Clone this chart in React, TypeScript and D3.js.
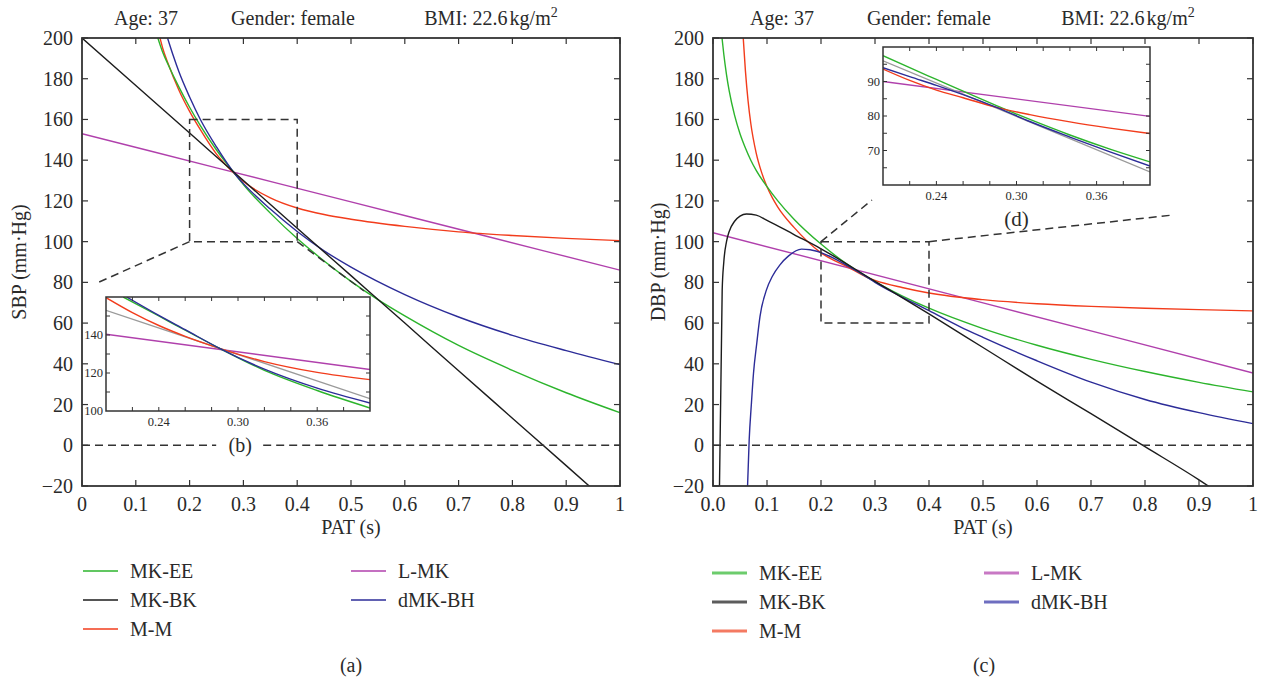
import React from "react";
import * as d3 from "d3";

type Pt = [number, number];

// ---------------- tick labels ----------------
const xTickValues = [0, 0.1, 0.2, 0.3, 0.4, 0.5, 0.6, 0.7, 0.8, 0.9, 1];
const xTickLabelsA = ["0", "0.1", "0.2", "0.3", "0.4", "0.5", "0.6", "0.7", "0.8", "0.9", "1"];
const xTickLabelsC = ["0.0", "0.1", "0.2", "0.3", "0.4", "0.5", "0.6", "0.7", "0.8", "0.9", "1"];
const yTickValues = [200, 180, 160, 140, 120, 100, 80, 60, 40, 20, 0, -20];
const yTickLabels = ["200", "180", "160", "140", "120", "100", "80", "60", "40", "20", "0", "\u221220"];
const insetXLabelValues = [0.24, 0.3, 0.36];
const insetXLabels = ["0.24", "0.30", "0.36"];
const insetBYLabelValues = [100, 120, 140];
const insetDYLabelValues = [70, 80, 90];

const seriesNames = ["MK-EE", "MK-BK", "M-M", "L-MK", "dMK-BH"];
const seriesColors = ["#2cb42c", "#1c1c1c", "#f23c1c", "#b040ac", "#2c2c98"];
const legendColorsC = ["#6ccc6c", "#5c5c5c", "#f47a62", "#c878c4", "#6e6ec0"];
const refColor = "#9a9a9a";

// ---------------- panel (a): SBP ----------------
const sbpMKEE: Pt[] = [[0.141, 200], [0.15, 193], [0.16, 187], [0.18, 176], [0.2, 166], [0.22, 157], [0.25, 145], [0.285, 133], [0.3, 128], [0.35, 114], [0.4, 101.5], [0.45, 90.5], [0.5, 80.5], [0.55, 71.5], [0.6, 63.5], [0.7, 49], [0.8, 36.8], [0.9, 25.8], [1, 16]];
const sbpMKBK: Pt[] = [[0, 200], [0.1, 176.7], [0.2, 153.3], [0.3, 130], [0.4, 106.6], [0.5, 83.3], [0.6, 60], [0.7, 36.6], [0.8, 13.3], [0.9, -10], [0.95, -21.7]];
const sbpMM: Pt[] = [[0.145, 200], [0.15, 195], [0.16, 187.5], [0.18, 174.5], [0.2, 164], [0.22, 155], [0.25, 143], [0.285, 133], [0.3, 129.5], [0.35, 121.5], [0.4, 116.5], [0.45, 113.3], [0.5, 111], [0.6, 107.5], [0.7, 104.8], [0.8, 103], [0.9, 101.6], [1, 100.5]];
const sbpLMK: Pt[] = [[0, 153], [0.25, 136.25], [0.5, 119.5], [0.75, 102.75], [1, 86]];
const sbpDMKBH: Pt[] = [[0.159, 200], [0.17, 191], [0.18, 183.5], [0.2, 171], [0.22, 160], [0.25, 146.5], [0.285, 133], [0.3, 128.5], [0.35, 116], [0.4, 105], [0.45, 95.5], [0.5, 87.5], [0.6, 74], [0.7, 63], [0.8, 54], [0.9, 46.5], [1, 39.6]];

// inset (b)
const bMKEE: Pt[] = [[0.213, 160], [0.24, 150], [0.26, 142.5], [0.286, 133], [0.32, 121.4], [0.36, 110.8], [0.4, 101.6]];
const bMM: Pt[] = [[0.2, 159.7], [0.22, 151.8], [0.24, 145], [0.26, 139.3], [0.286, 133], [0.32, 126], [0.36, 120.3], [0.4, 116.5]];
const bLMK: Pt[] = [[0.2, 140.4], [0.4, 121.8]];
const bDMKBH: Pt[] = [[0.2156, 160], [0.24, 150.3], [0.26, 142.8], [0.286, 133], [0.32, 122], [0.36, 112], [0.4, 104.2]];
const bRef: Pt[] = [[0.2, 153], [0.4, 106.5]];

// ---------------- panel (c): DBP ----------------
const dbpMKEE: Pt[] = [[0.0167, 200], [0.02, 192], [0.025, 182], [0.03, 174], [0.04, 162], [0.05, 153], [0.06, 146], [0.07, 140], [0.08, 135], [0.1, 127], [0.12, 120], [0.15, 111], [0.2, 98.8], [0.25, 88.6], [0.3, 80.4], [0.35, 73.4], [0.4, 67.3], [0.5, 57.3], [0.6, 49.1], [0.7, 42.2], [0.8, 36.2], [0.9, 30.9], [1, 26.2]];
const dbpMKBK: Pt[] = [[0.012, -20], [0.017, 76], [0.02, 90], [0.025, 100], [0.03, 105], [0.04, 110], [0.05, 112.5], [0.062, 113.6], [0.08, 113], [0.1, 110.5], [0.15, 103.5], [0.2, 96.5], [0.3, 80.5], [0.4, 64.5], [0.5, 48], [0.6, 31.5], [0.7, 15.5], [0.8, -0.7], [0.9, -17], [0.92, -20.5]];
const dbpMM: Pt[] = [[0.056, 200], [0.06, 184], [0.065, 169], [0.07, 158], [0.08, 143.5], [0.09, 134], [0.1, 127], [0.11, 121.5], [0.12, 117], [0.15, 107], [0.2, 94.5], [0.25, 87.5], [0.285, 82.5], [0.3, 81], [0.35, 77.5], [0.4, 74.8], [0.5, 71.5], [0.6, 69.5], [0.7, 68.2], [0.8, 67.3], [0.9, 66.6], [1, 66]];
const dbpLMK: Pt[] = [[0, 104.4], [0.5, 69.95], [1, 35.5]];
const dbpDMKBH: Pt[] = [[0.064, -20], [0.067, 2.6], [0.071, 20], [0.075, 35.4], [0.081, 50], [0.087, 63.2], [0.099, 76.3], [0.11, 83], [0.124, 88.6], [0.14, 93], [0.164, 96.3], [0.18, 96], [0.2, 94.6], [0.25, 88], [0.285, 82.6], [0.3, 80], [0.35, 72.8], [0.4, 66.1], [0.457, 58.3], [0.5, 53], [0.6, 41.5], [0.7, 31], [0.8, 22.5], [0.9, 16], [1, 10.6]];

// inset (d)
const dMKEE: Pt[] = [[0.2, 97.5], [0.22, 94], [0.24, 90.6], [0.26, 87.2], [0.285, 83], [0.31, 79], [0.34, 74.5], [0.37, 70.4], [0.4, 66.7]];
const dMM: Pt[] = [[0.2, 93.6], [0.22, 90.3], [0.24, 87.5], [0.26, 85.3], [0.285, 82.5], [0.31, 80.4], [0.34, 78.3], [0.37, 76.5], [0.4, 74.9]];
const dLMK: Pt[] = [[0.2, 90], [0.4, 79.9]];
const dDMKBH: Pt[] = [[0.2, 94], [0.22, 91.4], [0.24, 88.9], [0.26, 86.2], [0.285, 82.5], [0.31, 78.4], [0.34, 73.9], [0.37, 69.6], [0.4, 65.5]];
const dRef: Pt[] = [[0.2, 96], [0.4, 63.8]];

// ---------------- layout ----------------
const W = 1265;
const H = 684;
const FONT = "'Liberation Serif', 'DejaVu Serif', serif";
const INK = "#2a2a2a";

interface Box { left: number; right: number; top: number; bottom: number }
interface Series { color: string; data: Pt[] }

const boxA: Box = { left: 82, right: 620, top: 38, bottom: 486 };
const boxC: Box = { left: 713, right: 1253, top: 38, bottom: 486 };
const insetBoxB: Box = { left: 106, right: 370, top: 297, bottom: 411 };
const insetBoxD: Box = { left: 883, right: 1150, top: 47, bottom: 185 };

function lineFor(xs: d3.ScaleLinear<number, number>, ys: d3.ScaleLinear<number, number>) {
  return d3
    .line<Pt>()
    .x((d) => xs(d[0]))
    .y((d) => ys(d[1]))
    .curve(d3.curveMonotoneX);
}

function Inset(props: {
  id: string;
  box: Box;
  yDomain: [number, number];
  yMinor: number;
  yLabels: number[];
  series: Series[];
}) {
  const { id, box, yDomain, yMinor, yLabels, series } = props;
  const xs = d3.scaleLinear().domain([0.2, 0.4]).range([box.left, box.right]);
  const ys = d3.scaleLinear().domain(yDomain).range([box.bottom, box.top]);
  const line = lineFor(xs, ys);
  const xMinor = d3.range(0.22, 0.399, 0.02);
  const yMinorTicks = d3.range(yDomain[0] + yMinor, yDomain[1] - 0.01, yMinor);
  const tl = 4;
  return (
    <g>
      <defs>
        <clipPath id={id}>
          <rect x={box.left} y={box.top} width={box.right - box.left} height={box.bottom - box.top} />
        </clipPath>
      </defs>
      <rect x={box.left} y={box.top} width={box.right - box.left} height={box.bottom - box.top} fill="#fff" />
      <g clipPath={`url(#${id})`} fill="none" strokeWidth={1.4}>
        {series.map((s, i) => (
          <path key={i} d={line(s.data) || ""} stroke={s.color} />
        ))}
      </g>
      <g stroke="#333" strokeWidth={1}>
        {xMinor.map((t, i) => (
          <g key={i}>
            <line x1={xs(t)} x2={xs(t)} y1={box.bottom} y2={box.bottom - tl} />
            <line x1={xs(t)} x2={xs(t)} y1={box.top} y2={box.top + tl} />
          </g>
        ))}
        {yMinorTicks.map((t, i) => (
          <g key={i}>
            <line x1={box.left} x2={box.left + tl} y1={ys(t)} y2={ys(t)} />
            <line x1={box.right} x2={box.right - tl} y1={ys(t)} y2={ys(t)} />
          </g>
        ))}
      </g>
      <rect x={box.left} y={box.top} width={box.right - box.left} height={box.bottom - box.top} fill="none" stroke="#333" strokeWidth={1.5} />
      <g fontFamily={FONT} fontSize={12.5} fill={INK}>
        {insetXLabelValues.map((t, i) => (
          <text key={i} x={xs(t)} y={box.bottom + 15} textAnchor="middle">
            {insetXLabels[i]}
          </text>
        ))}
        {yLabels.map((t, i) => (
          <text key={i} x={box.left - 3} y={ys(t)} dy="0.35em" textAnchor="end">
            {String(t)}
          </text>
        ))}
      </g>
    </g>
  );
}

function Legend(props: { x1: number; x2: number; rows: number[]; colors: string[]; width: number }) {
  const { x1, x2, rows, colors, width } = props;
  const cols = [
    { x: x1, items: [0, 1, 2] },
    { x: x2, items: [3, 4] },
  ];
  return (
    <g fontFamily={FONT} fontSize={20} fill={INK}>
      {cols.map((c, ci) =>
        c.items.map((idx, ri) => (
          <g key={`${ci}-${ri}`}>
            <line x1={c.x} x2={c.x + 35} y1={rows[ri]} y2={rows[ri]} stroke={colors[idx]} strokeWidth={width} />
            <text x={c.x + 47} y={rows[ri]} dy="0.35em">
              {seriesNames[idx]}
            </text>
          </g>
        ))
      )}
    </g>
  );
}

function Titles(props: { centers: number[] }) {
  const [a, g, b] = props.centers;
  return (
    <g fontFamily={FONT} fontSize={20} fill={INK} textAnchor="middle">
      <text x={a} y={25}>Age: 37</text>
      <text x={g} y={25}>Gender: female</text>
      <text x={b} y={25}>
        <tspan>BMI: 22.6</tspan>
        <tspan dx={2}>kg/m</tspan>
        <tspan dy={-8} fontSize={14}>2</tspan>
      </text>
    </g>
  );
}

function MainPanel(props: {
  id: string;
  box: Box;
  xLabels: string[];
  yTitle: string;
  yTitleOffset: number;
  series: Series[];
  zoomY: [number, number];
  inset: React.ReactNode;
  connectors: { from: Pt; to: [number, number] }[];
  zeroGap: [number, number] | null;
}) {
  const { id, box, xLabels, yTitle, yTitleOffset, series, zoomY, inset, connectors, zeroGap } = props;
  const xs = d3.scaleLinear().domain([0, 1]).range([box.left, box.right]);
  const ys = d3.scaleLinear().domain([-20, 200]).range([box.bottom, box.top]);
  const line = lineFor(xs, ys);
  const tl = 6;
  const dash = "8,5";
  const zeroSegs: [number, number][] = zeroGap
    ? [[box.left, zeroGap[0]], [zeroGap[1], box.right]]
    : [[box.left, box.right]];
  return (
    <g>
      <defs>
        <clipPath id={id}>
          <rect x={box.left} y={box.top} width={box.right - box.left} height={box.bottom - box.top} />
        </clipPath>
      </defs>
      <g clipPath={`url(#${id})`} fill="none" strokeWidth={1.4}>
        {series.map((s, i) => (
          <path key={i} d={line(s.data) || ""} stroke={s.color} />
        ))}
      </g>
      <g stroke="#333" strokeWidth={1.5} strokeDasharray={dash}>
        {zeroSegs.map((sg, i) => (
          <line key={i} x1={sg[0]} x2={sg[1]} y1={ys(0)} y2={ys(0)} />
        ))}
      </g>
      <rect
        x={xs(0.2)}
        y={ys(zoomY[1])}
        width={xs(0.4) - xs(0.2)}
        height={ys(zoomY[0]) - ys(zoomY[1])}
        fill="none"
        stroke="#333"
        strokeWidth={1.5}
        strokeDasharray={dash}
      />
      {connectors.map((c, i) => (
        <line
          key={i}
          x1={xs(c.from[0])}
          y1={ys(c.from[1])}
          x2={c.to[0]}
          y2={c.to[1]}
          stroke="#333"
          strokeWidth={1.5}
          strokeDasharray={dash}
        />
      ))}
      {inset}
      <g stroke="#333" strokeWidth={1.2}>
        {xTickValues.map((t, i) => (
          <g key={i}>
            <line x1={xs(t)} x2={xs(t)} y1={box.bottom} y2={box.bottom - tl} />
            <line x1={xs(t)} x2={xs(t)} y1={box.top} y2={box.top + tl} />
          </g>
        ))}
        {yTickValues.map((t, i) => (
          <g key={i}>
            <line x1={box.left} x2={box.left + tl} y1={ys(t)} y2={ys(t)} />
            <line x1={box.right} x2={box.right - tl} y1={ys(t)} y2={ys(t)} />
          </g>
        ))}
      </g>
      <rect x={box.left} y={box.top} width={box.right - box.left} height={box.bottom - box.top} fill="none" stroke="#333" strokeWidth={1.8} />
      <g fontFamily={FONT} fontSize={20} fill={INK}>
        {xTickValues.map((t, i) => (
          <text key={i} x={xs(t)} y={box.bottom + 25} textAnchor="middle">
            {xLabels[i]}
          </text>
        ))}
        {yTickValues.map((t, i) => (
          <text key={i} x={box.left - 9} y={ys(t)} dy="0.35em" textAnchor="end">
            {yTickLabels[i]}
          </text>
        ))}
        <text x={(box.left + box.right) / 2} y={box.bottom + 48} textAnchor="middle">
          PAT (s)
        </text>
        <text
          transform={`translate(${box.left - yTitleOffset},${(box.top + box.bottom) / 2}) rotate(-90)`}
          textAnchor="middle"
          dy="0.35em"
        >
          {yTitle}
        </text>
      </g>
    </g>
  );
}

export default function App() {
  const mainA: Series[] = [
    { color: seriesColors[3], data: sbpLMK },
    { color: seriesColors[2], data: sbpMM },
    { color: seriesColors[0], data: sbpMKEE },
    { color: seriesColors[4], data: sbpDMKBH },
    { color: seriesColors[1], data: sbpMKBK },
  ];
  const mainC: Series[] = [
    { color: seriesColors[3], data: dbpLMK },
    { color: seriesColors[2], data: dbpMM },
    { color: seriesColors[0], data: dbpMKEE },
    { color: seriesColors[4], data: dbpDMKBH },
    { color: seriesColors[1], data: dbpMKBK },
  ];
  const insB: Series[] = [
    { color: seriesColors[3], data: bLMK },
    { color: refColor, data: bRef },
    { color: seriesColors[2], data: bMM },
    { color: seriesColors[0], data: bMKEE },
    { color: seriesColors[4], data: bDMKBH },
  ];
  const insD: Series[] = [
    { color: seriesColors[3], data: dLMK },
    { color: refColor, data: dRef },
    { color: seriesColors[0], data: dMKEE },
    { color: seriesColors[2], data: dMM },
    { color: seriesColors[4], data: dDMKBH },
  ];

  const xsA = d3.scaleLinear().domain([0, 1]).range([boxA.left, boxA.right]);
  const ysA = d3.scaleLinear().domain([-20, 200]).range([boxA.bottom, boxA.top]);
  const bLabelX = xsA(0.294);
  const xsD = d3.scaleLinear().domain([0.2, 0.4]).range([insetBoxD.left, insetBoxD.right]);

  return (
    <svg
      width={W}
      height={H}
      viewBox={`0 0 ${W} ${H}`}
      style={{ position: "absolute", left: 0, top: 0, background: "#fff" }}
    >
      <rect x={0} y={0} width={W} height={H} fill="#fff" />
      <Titles centers={[146, 293, 491]} />
      <Titles centers={[782, 929, 1128]} />

      <MainPanel
        id="clipA"
        box={boxA}
        xLabels={xTickLabelsA}
        yTitle="SBP (mm·Hg)"
        yTitleOffset={63}
        series={mainA}
        zoomY={[100, 160]}
        connectors={[
          { from: [0.2, 100], to: [insetBoxB.left - 9, insetBoxB.top - 14] },
          { from: [0.4, 100], to: [insetBoxB.right - 6, insetBoxB.top - 6] },
        ]}
        zeroGap={[bLabelX - 24, bLabelX + 23]}
        inset={
          <Inset id="clipB" box={insetBoxB} yDomain={[100, 160]} yMinor={10} yLabels={insetBYLabelValues} series={insB} />
        }
      />
      <text x={bLabelX} y={ysA(0)} dy="0.35em" textAnchor="middle" fontFamily={FONT} fontSize={20} fill={INK}>
        (b)
      </text>

      <MainPanel
        id="clipC"
        box={boxC}
        xLabels={xTickLabelsC}
        yTitle="DBP (mm·Hg)"
        yTitleOffset={55}
        series={mainC}
        zoomY={[60, 100]}
        connectors={[
          { from: [0.2, 100], to: [insetBoxD.left - 11, insetBoxD.bottom + 15] },
          { from: [0.4, 100], to: [insetBoxD.right + 23, insetBoxD.bottom + 30] },
        ]}
        zeroGap={null}
        inset={
          <Inset id="clipD" box={insetBoxD} yDomain={[60, 100]} yMinor={5} yLabels={insetDYLabelValues} series={insD} />
        }
      />
      <text x={xsD(0.3)} y={insetBoxD.bottom + 41} textAnchor="middle" fontFamily={FONT} fontSize={21} fill={INK}>
        (d)
      </text>

      <Legend x1={83} x2={351} rows={[571, 600, 629]} colors={seriesColors} width={1.6} />
      <Legend x1={712} x2={984} rows={[573, 602, 631]} colors={legendColorsC} width={3} />

      <g fontFamily={FONT} fontSize={20} fill={INK} textAnchor="middle">
        <text x={351} y={672}>(a)</text>
        <text x={984} y={672}>(c)</text>
      </g>
    </svg>
  );
}
